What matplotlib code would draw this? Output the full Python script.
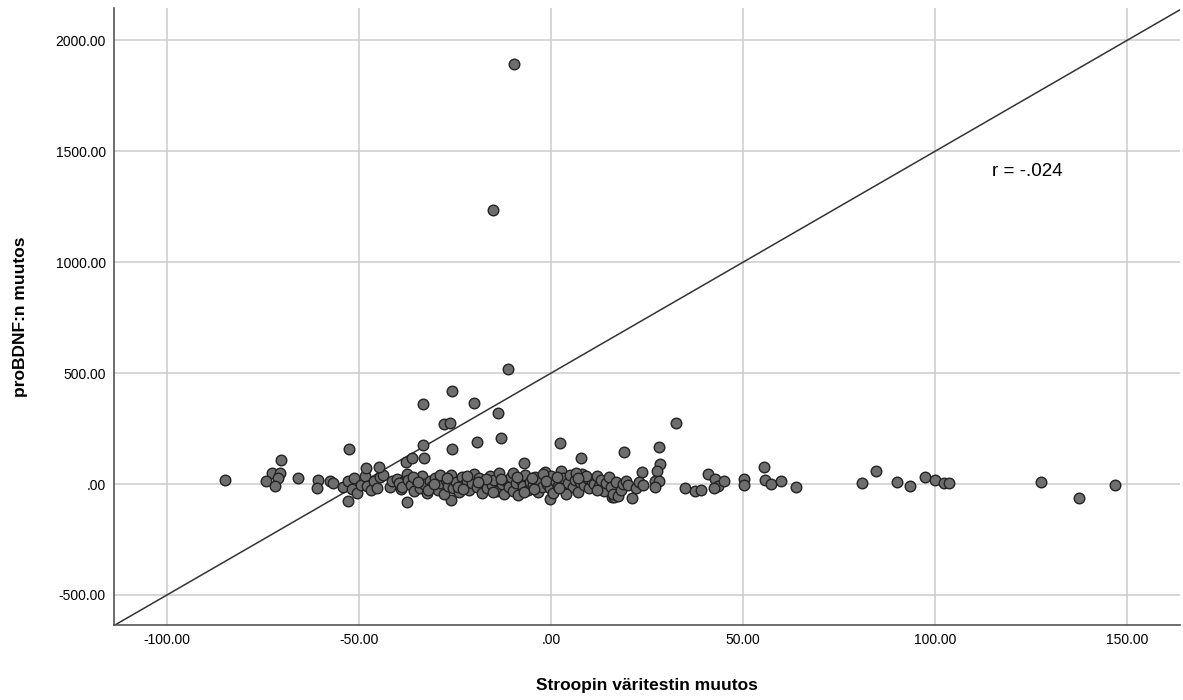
import matplotlib.pyplot as plt
import matplotlib.ticker as mticker
import numpy as np

# Stroop colour test change (x) vs proBDNF change (y)
out_x = [-9.6, -15.1, -11.3, -25.7, -33.4, -20.0, -13.9, -28.0, -26.3, -33.4,
         -19.4, -13.1, -25.7, 2.3, 7.8, 19.1, 28.0, 32.6, -52.5, -70.3,
         -37.8, -36.2, -33.1, -7.0, 28.5, 27.5, 23.6]
out_y = [1895, 1234, 520, 418, 360, 365, 318, 270, 276, 175,
         189, 207, 160, 186, 116, 143, 168, 275, 160, 107,
         100, 117, 116, 93, 90, 60, 53]

neg_x = [-52.9, -37.6, -26.1, -0.3, 21.0, 15.8, 137.6, 16.5]
neg_y = [-78, -80, -72, -68, -63, -57, -62, -60]

left_x = [-85.0, -72.7, -70.5, -74.3, -71.0, -72.0, -66.0, -60.6, -61.0, -57.6,
          -56.8, -54.2, -53.0, -51.3, -51.8, -50.5, -49.5, -48.4, -48.0, -47.0,
          -48.2, -46.0, -44.5, -43.8, -45.3, -44.7, -42.0, -41.5, -40.0, -39.0,
          -37.6, -38.5]
left_y = [18, 50, 50, 14, 27, -9, 27, 18, -18, 14,
          5, -14, 14, 27, -23, -41, -5, 36, -10, -27,
          70, 12, 32, 40, -18, 78, -14, 14, 23, -23,
          45, 9]

mid_x = [-39.5, -38.8, -37.2, -36.5, -35.8, -35.0, -34.2, -33.5, -33.0, -32.4,
         -31.6, -31.0, -30.2, -29.5, -28.8, -28.0, -27.4, -26.8, -26.0, -25.5,
         -24.8, -24.0, -23.3, -22.6, -22.0, -21.3, -20.6, -20.0, -19.4, -18.7,
         -18.0, -17.4, -16.7, -16.0, -15.4, -14.8, -14.2, -13.5, -12.9, -12.3,
         -11.7, -11.0, -10.4, -9.8, -9.2, -8.5, -7.9, -7.3, -6.7, -6.0,
         -5.4, -4.8, -4.1, -3.5, -2.9, -2.3, -1.6, -1.0, -0.4, 0.0,
         -36.0, -32.0, -29.0, -27.0, -24.2, -21.8, -17.0, -15.0, -10.0, -7.0,
         -5.0, -2.0, -34.6, -30.6, -23.0, -19.0, -13.0, -8.8, -4.4, -1.3]
mid_y = [5, -15, 20, -5, -30, 12, -20, 35, 0, -40,
         15, -10, 25, -25, 5, -45, 18, -8, 40, -20,
         10, -35, 30, -5, 15, -28, 5, 45, -15, 25,
         -40, 8, -20, 35, -5, 20, -30, 50, 0, -45,
         15, -15, 30, -30, 5, -50, 20, -10, 40, -25,
         10, -5, 30, -35, 15, -15, 55, 0, -20, 35,
         30, -28, 40, 28, -12, 38, 22, -35, 48, -38,
         28, 45, 8, 2, -22, 10, 22, 32, -22, 12]

right_x = [0.6, 1.2, 1.9, 2.5, 3.1, 3.7, 4.4, 5.0, 5.6, 6.2,
           6.9, 7.5, 8.1, 8.7, 9.4, 10.0, 10.6, 11.2, 11.9, 12.5,
           13.1, 13.7, 14.4, 15.0, 15.6, 16.2, 16.9, 17.5, 18.1, 18.7,
           19.4, 20.0, 22.0, 23.0, 24.0, 27.0, 28.2, 27.2,
           34.9, 37.5, 39.0, 40.9, 42.8, 43.4, 42.4, 45.1, 50.2, 50.2,
           55.4, 55.6, 57.2, 60.0, 63.9, 80.9, 84.5, 90.1, 93.4, 97.3,
           100.1, 102.4, 103.6, 127.7, 146.8,
           1.5, 4.0, 6.5, 9.0, 12.0, 2.0, 7.0]
right_y = [-40, 10, -10, 60, 25, -25, 5, 40, -15, 20,
           -35, 10, 45, -5, 25, -20, 15, 0, 35, -10,
           20, -30, 5, 30, -15, -45, 10, -55, -25, 0,
           15, -5, -20, 10, -5, 14, 15, -12,
           -19, -32, -26, 46, 23, -10, -18, 14, 23, -5,
           75, 18, 0, 14, -12, 5, 60, 10, -9, 30,
           17, 5, 5, 9, -5,
           30, -45, 50, 38, -28, -20, 28]

xs = out_x + neg_x + left_x + mid_x + right_x
ys = out_y + neg_y + left_y + mid_y + right_y

fig = plt.figure(figsize=(11.83, 7.0), dpi=100)
ax = fig.add_axes([0.0964, 0.107, 0.9011, 0.8816])

ax.set_xlim(-113.8, 163.8)
ax.set_ylim(-636, 2146)

# grid
ax.set_xticks([-100, -50, 0, 50, 100, 150])
ax.set_yticks([-500, 0, 500, 1000, 1500, 2000])
ax.grid(True, color='#cccccc', linewidth=1.1, zorder=0)
ax.set_axisbelow(True)

def fmt(v, pos):
    s = f"{v:.2f}"
    if s == "0.00":
        s = ".00"
    return s

ax.xaxis.set_major_formatter(mticker.FuncFormatter(fmt))
ax.yaxis.set_major_formatter(mticker.FuncFormatter(fmt))
ax.tick_params(length=0, labelsize=10, pad=6)
for lab in ax.get_xticklabels() + ax.get_yticklabels():
    lab.set_family('Liberation Sans')

for s in ['top', 'right']:
    ax.spines[s].set_visible(False)
for s in ['left', 'bottom']:
    ax.spines[s].set_color('#555555')
    ax.spines[s].set_linewidth(1.2)

# reference line
lx = np.array([-120, 170])
ax.plot(lx, 10 * lx + 500, color='#333333', linewidth=1.1, zorder=2)

ax.scatter(xs, ys, s=58, facecolor='#6e6e6e', edgecolor='#222222',
           linewidth=1.0, zorder=3)

ax.text(114.8, 1407, "r = -.024", fontsize=13.5, family='Liberation Sans',
        va='center', ha='left')

ax.set_xlabel("Stroopin väritestin muutos", fontsize=12.5, fontweight='bold',
              family='Liberation Sans', labelpad=22)
ax.set_ylabel("proBDNF:n muutos", fontsize=12.5, fontweight='bold',
              family='Liberation Sans', labelpad=20)

fig.savefig("out.png", dpi=100)
